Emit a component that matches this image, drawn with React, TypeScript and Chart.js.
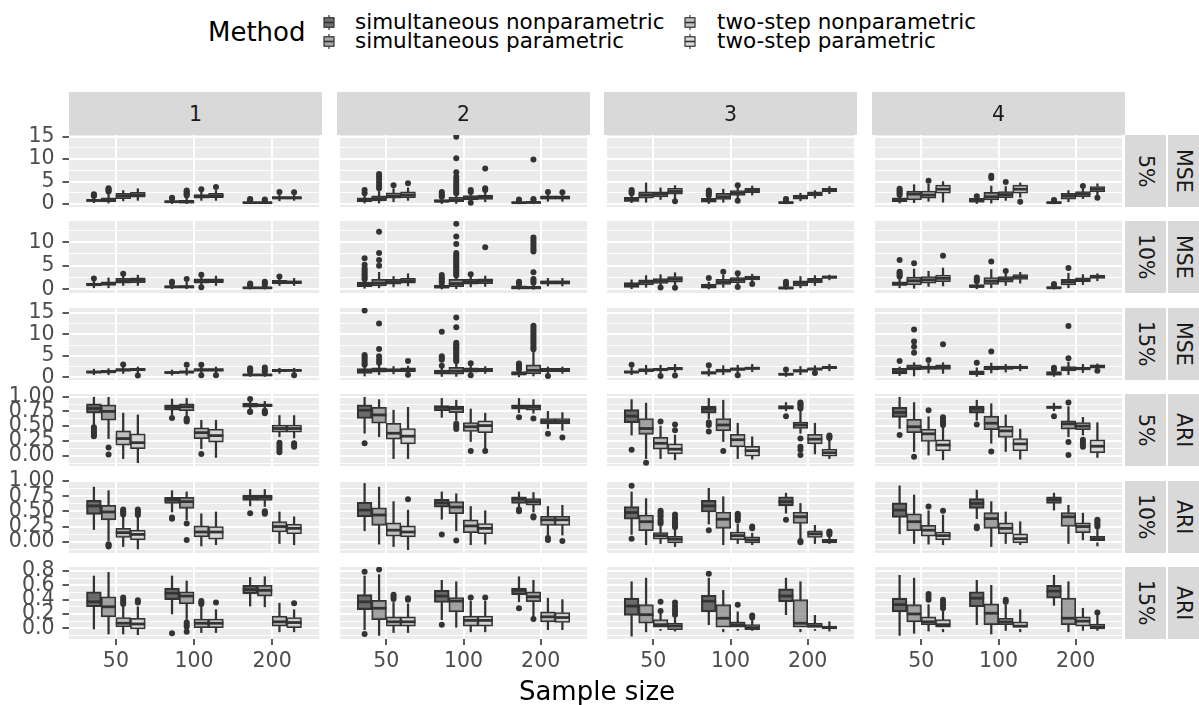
import React, { useEffect, useRef } from 'react';
import { Chart, registerables } from 'chart.js';

Chart.register(...registerables);

type Box = [number, number, number, number, number, number[]];

const METHODS = ['simultaneous nonparametric', 'simultaneous parametric', 'two-step nonparametric', 'two-step parametric'];
const SAMPLE_SIZES = ['50', '100', '200'];
const SCENARIOS = ['1', '2', '3', '4'];
const ROW_PERCENT = ['5%', '10%', '15%', '5%', '10%', '15%'];
const ROW_METRIC = ['MSE', 'MSE', 'MSE', 'ARI', 'ARI', 'ARI'];

// [lower whisker, Q1, median, Q3, upper whisker, outliers]
// layout: scenario (1..4) -> sample size (50,100,200) -> method
const mse05: Box[][][] = [
  [
    [[0.3,0.6,0.8,1.0,1.5,[1.8,2.0,2.2]],[0.2,0.5,0.9,1.4,2.5,[2.8,3.0,3.3,3.5]],[0.7,1.2,1.8,2.4,3.0,[]],[0.8,1.5,2.0,2.6,3.4,[]]],
    [[0.1,0.35,0.5,0.7,1.0,[1.2,1.4]],[0.1,0.25,0.45,0.8,1.6,[1.9,2.2,2.5,2.8,3.0]],[0.8,1.3,1.7,2.1,2.7,[3.3]],[0.8,1.4,1.8,2.4,3.0,[3.8]]],
    [[0.1,0.2,0.3,0.4,0.6,[0.8,1.0,1.1]],[0.1,0.2,0.3,0.4,0.6,[0.8,1.0]],[0.7,1.1,1.4,1.6,2.1,[2.7]],[0.8,1.1,1.4,1.6,2.1,[2.6]]],
  ],
  [
    [[0.2,0.5,0.9,1.4,2.0,[2.4,3.1]],[0.2,0.7,1.2,1.8,2.8,[3.5,4.1,4.8,5.5,6.2,6.7]],[0.5,1.3,1.8,2.5,3.4,[4.2]],[0.8,1.4,2.0,2.7,3.6,[4.6]]],
    [[0.1,0.45,0.6,1.0,1.3,[1.6,1.9,2.3,2.7]],[0.1,0.5,0.8,1.5,2.0,[2.4,2.8,3.3,3.8,4.3,4.8,5.4,6.1,7.1,10.2,15.0]],[0.6,0.9,1.4,1.9,2.3,[2.7,3.1,0.3]],[0.5,1.0,1.5,2.0,2.6,[3.1,3.5,7.9]]],
    [[0.05,0.2,0.3,0.4,0.6,[0.8,1.0]],[0.05,0.2,0.35,0.5,0.7,[0.9,1.1,9.9]],[0.6,1.1,1.4,1.8,2.2,[2.7]],[0.6,1.1,1.4,1.8,2.2,[2.6]]],
  ],
  [
    [[0.3,0.6,0.9,1.5,2.0,[2.4,2.8,3.1]],[0.4,1.3,2.0,2.7,4.7,[]],[1.0,1.6,2.2,2.7,3.6,[]],[1.2,2.2,2.8,3.5,4.1,[0.6]]],
    [[0.1,0.45,0.7,1.25,1.6,[1.9,2.3,2.7,3.0]],[0.4,1.0,1.6,2.4,3.3,[]],[1.2,1.9,2.4,3.0,3.5,[4.2,0.7]],[2.0,2.5,3.0,3.5,4.0,[]]],
    [[0.05,0.2,0.3,0.5,0.6,[0.8,1.0,1.1]],[0.7,1.1,1.5,2.0,2.4,[]],[1.3,1.85,2.2,2.7,3.0,[]],[2.3,2.7,3.1,3.5,3.9,[]]],
  ],
  [
    [[0.2,0.5,0.8,1.4,1.7,[2.0,2.4,2.8,3.1,3.4]],[0.3,0.9,2.2,2.9,4.3,[]],[0.6,1.3,2.0,2.9,4.4,[5.2]],[0.4,2.4,3.3,4.2,5.0,[]]],
    [[0.1,0.4,0.7,1.25,1.5,[1.7]],[0.2,0.9,1.6,2.6,4.0,[5.8,6.3]],[0.8,1.4,2.1,2.75,3.9,[4.9]],[1.5,2.4,3.3,4.2,4.7,[0.5]]],
    [[0.05,0.2,0.3,0.5,0.6,[0.7,0.9]],[0.5,1.1,1.8,2.4,3.0,[]],[1.2,1.6,2.2,2.75,3.3,[4.0]],[1.8,2.7,3.3,3.9,4.5,[1.4]]],
  ],
];

const mse10: Box[][][] = [
  [
    [[0.3,0.7,1.0,1.3,1.8,[2.3]],[0.3,0.8,1.2,1.6,2.4,[]],[0.8,1.3,1.8,2.3,2.8,[3.3]],[0.8,1.4,1.9,2.4,3.0,[]]],
    [[0.1,0.3,0.5,0.7,1.0,[1.3,1.6]],[0.1,0.3,0.5,0.8,1.5,[2.2]],[0.6,1.3,1.7,2.2,2.6,[3.1,0.4]],[0.8,1.4,1.8,2.2,2.8,[]]],
    [[0.05,0.2,0.3,0.4,0.6,[0.8,1.0,1.2]],[0.05,0.2,0.3,0.4,0.6,[0.9,1.3,1.6]],[0.8,1.2,1.5,1.9,2.3,[2.7]],[0.8,1.2,1.5,1.8,2.3,[]]],
  ],
  [
    [[0.2,0.55,1.0,1.5,1.9,[2.1,2.5,2.9,3.3,3.7,4.1,4.5,5.2,6.6]],[0.3,0.7,1.3,2.1,3.6,[5.0,6.2,7.7,12.2]],[0.5,1.1,1.6,2.1,2.7,[]],[0.7,1.3,1.8,2.3,3.3,[]]],
    [[0.05,0.25,0.5,0.9,1.1,[1.3,1.7,2.1,2.5,3.0]],[0.1,0.55,1.2,2.1,2.6,[2.9,3.3,3.7,4.1,4.5,4.9,5.3,5.7,6.1,6.5,6.9,7.3,7.7,9.6,11.2,13.9]],[0.5,1.1,1.6,2.1,2.6,[3.2]],[0.6,1.2,1.7,2.2,2.8,[8.9]]],
    [[0.02,0.1,0.3,0.7,0.9,[1.1,1.4,1.6]],[0.02,0.1,0.3,0.6,1.0,[1.4,1.8,2.2,3.6,8.0,8.5,9.0,9.5,10.0,10.5,11.0]],[0.7,1.1,1.5,1.8,2.3,[]],[0.7,1.1,1.5,1.8,2.3,[]]],
  ],
  [
    [[0.1,0.4,0.9,1.4,2.0,[]],[0.4,0.9,1.5,2.0,2.9,[]],[0.6,1.25,1.8,2.25,3.1,[0.35]],[0.6,1.5,2.1,2.7,3.5,[0.3]]],
    [[0.05,0.25,0.6,1.1,1.5,[2.4]],[0.4,1.0,1.5,2.1,3.0,[3.7]],[0.8,1.4,2.0,2.5,3.0,[3.4,0.5]],[1.3,2.0,2.4,2.8,3.2,[1.1]]],
    [[0.02,0.1,0.25,0.5,0.7,[0.9,1.2,1.6]],[0.3,0.7,1.3,1.8,2.7,[]],[0.8,1.4,1.9,2.3,2.9,[]],[2.0,2.3,2.6,2.8,3.0,[]]],
  ],
  [
    [[0.3,0.8,1.1,1.6,2.3,[2.7,3.0,3.4,3.7,6.2]],[0.2,0.9,1.8,2.6,4.3,[5.5]],[0.6,1.3,2.0,2.7,3.8,[]],[0.7,1.6,2.3,3.0,4.5,[7.1]]],
    [[0.1,0.4,0.6,1.0,1.4,[1.7,2.1,2.5]],[0.3,1.0,1.7,2.5,4.2,[5.9]],[0.8,1.5,2.1,2.7,3.4,[3.9]],[1.3,2.1,2.6,3.1,3.6,[]]],
    [[0.05,0.2,0.3,0.5,0.7,[0.8,1.1]],[0.3,0.9,1.6,2.1,3.4,[4.5]],[1.0,1.6,2.0,2.4,3.1,[]],[1.8,2.3,2.7,3.0,3.3,[]]],
  ],
];

const mse15: Box[][][] = [
  [
    [[0.6,1.0,1.2,1.5,1.9,[]],[0.6,1.0,1.3,1.6,2.0,[]],[0.9,1.4,1.7,2.0,2.4,[3.0]],[1.0,1.5,1.8,2.1,2.4,[0.4]]],
    [[0.5,0.9,1.1,1.3,1.7,[]],[0.5,1.0,1.2,1.5,2.1,[2.9]],[0.8,1.4,1.7,2.0,2.4,[2.9,0.5]],[1.0,1.4,1.7,2.0,2.4,[0.5]]],
    [[0.2,0.4,0.55,0.7,1.0,[1.3,1.6,1.8,2.1]],[0.2,0.4,0.55,0.7,1.0,[1.3,1.7,2.3]],[0.9,1.3,1.6,1.8,2.1,[]],[1.0,1.4,1.6,1.8,2.1,[0.5]]],
  ],
  [
    [[0.3,0.9,1.4,2.0,2.5,[2.9,3.3,3.8,4.3,4.8,5.2,15.5]],[0.6,1.2,1.6,2.2,2.8,[3.4,4.1,4.9,6.6,12.5]],[0.8,1.3,1.6,2.0,2.5,[]],[0.9,1.3,1.7,2.2,2.6,[3.8,0.6]]],
    [[0.2,0.7,1.1,1.7,2.3,[2.7,4.1,4.5,4.9,10.6]],[0.2,0.7,1.4,2.3,3.3,[3.7,4.1,4.5,4.9,5.3,5.7,6.1,6.5,6.9,7.3,7.7,8.0,11.6,13.9]],[0.9,1.2,1.7,2.2,2.8,[3.25,0.5]],[0.9,1.3,1.7,2.1,2.5,[]]],
    [[0.1,0.55,0.8,1.3,1.5,[1.8,2.2,2.6,3.0,3.2]],[0.3,0.8,1.6,2.9,6.0,[6.5,7.0,7.5,8.0,8.5,9.0,9.5,10.0,10.5,11.0,11.5,12.0]],[0.9,1.3,1.7,2.1,2.4,[0.3]],[0.9,1.3,1.7,2.1,2.4,[]]],
  ],
  [
    [[0.6,1.0,1.2,1.5,2.2,[2.9]],[0.7,1.3,1.6,2.0,2.8,[]],[1.0,1.5,1.8,2.1,2.8,[0.3]],[1.2,1.7,2.0,2.3,3.0,[0.4]]],
    [[0.3,0.8,1.0,1.3,2.0,[2.8]],[0.6,1.2,1.5,1.9,2.7,[]],[1.0,1.6,1.9,2.2,2.8,[0.5]],[1.3,1.8,2.1,2.4,3.0,[]]],
    [[0.2,0.5,0.7,0.9,1.4,[1.8]],[0.6,1.2,1.5,1.8,2.5,[]],[1.2,1.7,1.9,2.2,2.7,[1.0]],[1.5,2.0,2.3,2.5,3.0,[]]],
  ],
  [
    [[0.4,0.8,1.3,2.1,2.4,[3.8]],[0.3,1.7,2.2,2.9,3.4,[5.7,7.1,8.3,11.1]],[1.0,1.85,2.2,2.6,3.2,[4.0]],[0.9,1.85,2.3,2.9,3.4,[7.7]]],
    [[0.2,0.6,1.0,1.5,2.2,[3.4]],[1.0,1.7,2.1,2.6,3.3,[6.0]],[1.2,1.8,2.2,2.6,3.0,[]],[1.5,2.0,2.3,2.6,3.0,[]]],
    [[0.2,0.5,0.8,1.3,1.5,[1.8,2.2]],[0.6,1.5,2.0,2.5,3.5,[4.4,11.9]],[1.1,1.7,2.0,2.4,3.0,[]],[1.7,2.1,2.5,2.9,3.1,[1.5]]],
  ],
];

const ari05: Box[][][] = [
  [
    [[0.52,0.72,0.80,0.88,0.99,[0.33,0.36,0.39,0.42,0.45,0.48]],[0.29,0.60,0.75,0.86,0.99,[0.14,0.02]],[-0.05,0.18,0.29,0.42,0.72,[]],[-0.12,0.12,0.22,0.37,0.69,[]]],
    [[0.69,0.77,0.82,0.86,0.96,[0.64]],[0.66,0.76,0.83,0.88,0.97,[0.58,0.61,0.63]],[0.12,0.29,0.39,0.47,0.60,[0.03]],[-0.03,0.23,0.34,0.45,0.60,[]]],
    [[0.79,0.82,0.85,0.89,0.93,[0.96,0.74,0.75]],[0.79,0.83,0.85,0.88,0.92,[0.72,0.74,0.76]],[0.32,0.40,0.46,0.52,0.68,[0.22,0.18,0.14,0.10,0.06]],[0.30,0.40,0.46,0.52,0.68,[0.21,0.18,0.15]]],
  ],
  [
    [[0.38,0.63,0.77,0.86,0.99,[0.21]],[0.32,0.55,0.69,0.82,0.95,[]],[-0.05,0.28,0.38,0.55,0.77,[]],[-0.05,0.20,0.33,0.46,0.82,[]]],
    [[0.65,0.76,0.82,0.85,0.97,[]],[0.60,0.73,0.80,0.84,0.94,[0.54,0.50,0.45]],[0.24,0.41,0.49,0.56,0.79,[0.08]],[0.10,0.39,0.51,0.59,0.72,[0.08]]],
    [[0.73,0.79,0.83,0.86,0.97,[0.65]],[0.72,0.77,0.82,0.86,0.95,[0.63]],[0.46,0.54,0.58,0.63,0.75,[0.37]],[0.43,0.54,0.58,0.63,0.73,[0.31]]],
  ],
  [
    [[0.35,0.56,0.67,0.78,0.95,[0.10]],[-0.05,0.36,0.46,0.63,0.89,[-0.12]],[-0.05,0.11,0.21,0.31,0.50,[0.58]],[-0.07,0.03,0.11,0.20,0.35,[0.43,0.53]]],
    [[0.62,0.72,0.79,0.84,0.97,[0.56,0.52,0.41]],[0.24,0.42,0.52,0.63,0.94,[0.08]],[-0.05,0.15,0.27,0.36,0.55,[]],[-0.06,-0.01,0.085,0.16,0.32,[]]],
    [[0.76,0.79,0.82,0.85,0.90,[0.67]],[0.38,0.46,0.52,0.57,0.77,[0.80,0.83,0.86,0.88,0.90,0.29,0.15,0.10,0.01]],[0.03,0.20,0.28,0.36,0.55,[]],[-0.05,-0.01,0.05,0.11,0.27,[0.30,0.32,0.34]]],
  ],
  [
    [[0.46,0.65,0.73,0.82,0.99,[0.35]],[0.07,0.39,0.49,0.62,0.90,[-0.02]],[0.01,0.24,0.37,0.45,0.66,[0.77]],[-0.07,0.08,0.18,0.27,0.49,[0.52,0.55,0.58,0.62,0.65]]],
    [[0.60,0.72,0.79,0.84,0.94,[0.53]],[0.21,0.44,0.55,0.67,0.88,[0.07]],[0.07,0.31,0.42,0.50,0.69,[]],[-0.06,0.08,0.20,0.29,0.45,[]]],
    [[0.76,0.80,0.82,0.84,0.89,[0.67]],[0.32,0.45,0.54,0.59,0.83,[0.90,0.23,0.01]],[0.35,0.44,0.50,0.56,0.65,[0.27,0.23,0.19,0.15]],[-0.03,0.05,0.16,0.27,0.56,[]]],
  ],
];

const ari10: Box[][][] = [
  [
    [[0.20,0.45,0.59,0.68,0.90,[]],[0.0,0.36,0.49,0.60,0.84,[-0.04,-0.06,-0.08]],[-0.08,0.07,0.15,0.22,0.41,[0.45,0.48,0.50,0.53]],[-0.12,0.03,0.12,0.19,0.41,[0.44,0.47,0.50,0.53]]],
    [[0.49,0.63,0.69,0.73,0.84,[0.38,0.40]],[0.36,0.55,0.66,0.73,0.82,[0.30,0.03]],[-0.07,0.08,0.16,0.26,0.46,[]],[-0.05,0.04,0.16,0.25,0.49,[]]],
    [[0.59,0.68,0.73,0.77,0.86,[0.47]],[0.58,0.68,0.73,0.77,0.86,[0.46,0.48,0.50]],[-0.03,0.16,0.25,0.33,0.49,[]],[-0.05,0.13,0.22,0.29,0.41,[]]],
  ],
  [
    [[0.18,0.41,0.52,0.65,0.96,[]],[-0.04,0.27,0.44,0.56,0.90,[]],[-0.08,0.09,0.19,0.31,0.66,[]],[-0.13,0.08,0.16,0.26,0.52,[0.70]]],
    [[0.37,0.57,0.64,0.70,0.82,[0.12]],[0.18,0.46,0.57,0.66,0.79,[0.02]],[-0.05,0.15,0.26,0.36,0.58,[]],[-0.04,0.13,0.22,0.30,0.51,[]]],
    [[0.57,0.63,0.70,0.74,0.82,[0.50,0.53]],[0.49,0.60,0.66,0.71,0.81,[0.40,0.42]],[0.11,0.27,0.36,0.42,0.58,[0.06,0.03]],[0.11,0.27,0.36,0.42,0.60,[0.01]]],
  ],
  [
    [[0.12,0.37,0.48,0.58,0.82,[0.92,0.05]],[-0.05,0.18,0.33,0.44,0.71,[]],[-0.03,0.04,0.10,0.15,0.25,[0.30,0.33,0.36,0.41,0.44,0.48,0.51]],[-0.08,-0.02,0.04,0.09,0.19,[0.24,0.27,0.30,0.33,0.37,0.40,0.45]]],
    [[0.29,0.49,0.59,0.68,0.88,[0.19]],[-0.05,0.22,0.37,0.49,0.74,[]],[-0.03,0.03,0.10,0.16,0.29,[0.35,0.38,0.41,0.44,0.46]],[-0.05,-0.02,0.03,0.08,0.14,[0.22,0.25]]],
    [[0.47,0.59,0.66,0.74,0.80,[0.36]],[0.04,0.30,0.41,0.49,0.63,[0.01,-0.01]],[-0.03,0.07,0.13,0.18,0.27,[]],[-0.03,-0.02,0.01,0.04,0.08,[0.12,0.15,0.17]]],
  ],
  [
    [[0.13,0.40,0.52,0.64,0.92,[]],[-0.03,0.18,0.33,0.46,0.77,[]],[-0.04,0.09,0.19,0.27,0.51,[0.58]],[-0.05,0.03,0.10,0.16,0.44,[0.51]]],
    [[0.38,0.55,0.63,0.71,0.85,[0.22,0.25]],[-0.08,0.22,0.38,0.48,0.66,[]],[-0.03,0.13,0.22,0.31,0.49,[]],[-0.05,-0.02,0.05,0.13,0.33,[]]],
    [[0.52,0.63,0.69,0.74,0.80,[]],[-0.03,0.25,0.41,0.48,0.60,[]],[0.03,0.15,0.25,0.31,0.47,[]],[-0.07,0.0,0.05,0.09,0.22,[0.25,0.28,0.31,0.34,0.36]]],
  ],
];

const ari15: Box[][][] = [
  [
    [[-0.01,0.30,0.37,0.51,0.73,[]],[-0.08,0.16,0.30,0.44,0.78,[]],[-0.08,0.02,0.07,0.15,0.30,[0.34,0.37,0.40,0.43]],[-0.09,-0.01,0.06,0.14,0.30,[0.36,0.39]]],
    [[0.20,0.40,0.49,0.56,0.73,[-0.07]],[0.09,0.34,0.45,0.51,0.66,[0.02,0.05,0.08,-0.05]],[-0.06,0.01,0.07,0.13,0.30,[0.34,0.36,0.38]],[-0.06,0.01,0.07,0.13,0.26,[0.36]]],
    [[0.31,0.48,0.54,0.60,0.71,[]],[0.30,0.45,0.53,0.60,0.72,[]],[-0.05,0.03,0.09,0.17,0.35,[]],[-0.05,0.01,0.08,0.15,0.26,[0.35]]],
  ],
  [
    [[-0.02,0.26,0.37,0.47,0.73,[0.79,-0.08]],[-0.10,0.12,0.28,0.39,0.75,[0.82]],[-0.06,0.03,0.09,0.16,0.36,[0.41,0.44,0.47]],[-0.06,0.03,0.09,0.16,0.34,[0.40,0.42]]],
    [[0.12,0.36,0.45,0.53,0.67,[0.05]],[0.0,0.23,0.38,0.43,0.65,[]],[-0.05,0.03,0.11,0.17,0.38,[0.43]],[-0.05,0.03,0.11,0.17,0.38,[0.43]]],
    [[0.37,0.47,0.53,0.56,0.72,[0.28]],[0.16,0.37,0.44,0.51,0.67,[0.13]],[-0.02,0.09,0.16,0.23,0.42,[]],[-0.02,0.08,0.15,0.22,0.40,[]]],
  ],
  [
    [[-0.11,0.18,0.31,0.42,0.65,[]],[-0.05,0.07,0.19,0.33,0.70,[]],[-0.03,0.0,0.05,0.12,0.20,[0.24,0.37]],[-0.04,-0.02,0.03,0.07,0.15,[0.19,0.23,0.27,0.31,0.36]]],
    [[0.05,0.23,0.38,0.46,0.70,[0.76]],[-0.05,0.0,0.14,0.33,0.53,[]],[-0.03,0.0,0.05,0.09,0.23,[0.33]],[-0.03,-0.02,0.01,0.05,0.11,[0.15,0.18]]],
    [[0.19,0.37,0.45,0.55,0.70,[]],[-0.05,0.0,0.07,0.40,0.65,[]],[-0.03,0.0,0.03,0.07,0.18,[]],[-0.04,-0.01,0.01,0.03,0.09,[]]],
  ],
  [
    [[-0.10,0.23,0.33,0.42,0.74,[]],[-0.07,0.09,0.20,0.33,0.70,[]],[-0.04,0.05,0.09,0.16,0.33,[0.40,0.44,0.48]],[-0.05,0.0,0.05,0.12,0.25,[0.28,0.32,0.36,0.40]]],
    [[0.05,0.30,0.42,0.51,0.67,[]],[-0.08,0.05,0.21,0.34,0.60,[]],[-0.03,0.05,0.09,0.14,0.33,[0.37,0.40]],[-0.05,0.0,0.03,0.09,0.26,[]]],
    [[0.32,0.42,0.52,0.60,0.74,[]],[-0.05,0.05,0.14,0.42,0.65,[]],[-0.03,0.03,0.10,0.16,0.28,[]],[-0.03,-0.01,0.02,0.06,0.19,[0.22]]],
  ],
];

// y axis ticks
const mseTicks15 = [0, 5, 10, 15];
const mseLabels15 = ['0', '5', '10', '15'];
const mseTicks10 = [0, 5, 10];
const mseLabels10 = ['0', '5', '10'];
const mseMinor = [2.5, 7.5, 12.5];
const ariTicks100 = [0, 0.25, 0.5, 0.75, 1];
const ariLabels100 = ['0.00', '0.25', '0.50', '0.75', '1.00'];
const ariMinor100 = [-0.125, 0.125, 0.375, 0.625, 0.875];
const ariTicks080 = [0, 0.2, 0.4, 0.6, 0.8];
const ariLabels080 = ['0.0', '0.2', '0.4', '0.6', '0.8'];
const ariMinor080 = [-0.1, 0.1, 0.3, 0.5, 0.7];

const ROW_DATA = [mse05, mse10, mse15, ari05, ari10, ari15];
const ROW_TICKS = [mseTicks15, mseTicks10, mseTicks15, ariTicks100, ariTicks100, ariTicks080];
const ROW_LABELS = [mseLabels15, mseLabels10, mseLabels15, ariLabels100, ariLabels100, ariLabels080];
const ROW_MINOR = [mseMinor, mseMinor, mseMinor, ariMinor100, ariMinor100, ariMinor080];
const ROW_LIMITS = [[-0.67, 15.38], [-0.8, 14.5], [-0.63, 16.1], [-0.175, 1.045], [-0.186, 1.0], [-0.15, 0.856]];

// styling / layout
const FILLS = ['rgba(51,51,51,0.7)', 'rgba(129,129,129,0.7)', 'rgba(171,171,171,0.7)', 'rgba(204,204,204,0.7)'];
const LINE = '#333333';
const PANEL_BG = '#EBEBEB';
const STRIP_BG = '#D9D9D9';
const FONT = 'DejaVu Sans';
const DODGE = [-0.28125, -0.09375, 0.09375, 0.28125];
const BOX_UNITS = 0.1875;
const X_MIN = 0.4;
const X_MAX = 3.6;
const PANEL_X = [69, 337, 604, 872];
const PANEL_W = 253;
const PANEL_Y = [135, 221, 308, 394, 481, 567];
const PANEL_H = 72;
const PAD = 12;
const XAXIS_H = 45;
const TICK_FONT = 20.5;
const LEGEND_FONT = 21.5;
const LEGEND_KEY_X = [322, 683];
const LEGEND_TEXT_X = [355, 717];
const LEGEND_ROW_Y = [22, 41];

const isIn = (arr: number[], v: number) => arr.some((a) => Math.abs(a - v) < 1e-9);

function makeConfig(r: number, c: number): any {
  const boxes = ROW_DATA[r][c];
  const boxPx = (BOX_UNITS * PANEL_W) / (X_MAX - X_MIN);
  const lowW: any[] = [];
  const highW: any[] = [];
  const meds: [number, number][] = [];
  const out: any[][] = [[], [], [], []];
  const boxSets: any[][] = [[], [], [], []];
  boxes.forEach((group, s) => {
    group.forEach((b, m) => {
      const pos = s + 1 + DODGE[m];
      lowW.push({ x: pos, y: [b[0], b[1]] });
      highW.push({ x: pos, y: [b[3], b[4]] });
      boxSets[m].push({ x: pos, y: [b[1], b[3]] });
      meds.push([pos, b[2]]);
      b[5].forEach((v) => out[m].push({ x: pos, y: v }));
    });
  });
  const majors = ROW_TICKS[r];
  const minors = ROW_MINOR[r];
  const labels = ROW_LABELS[r];
  const showY = c === 0;
  const showX = r === 5;

  const datasets: any[] = [
    { type: 'bar', data: lowW, backgroundColor: LINE, borderWidth: 0, barThickness: 1.6, grouped: false, order: 3 },
    { type: 'bar', data: highW, backgroundColor: LINE, borderWidth: 0, barThickness: 1.6, grouped: false, order: 3 },
  ];
  for (let m = 0; m < 4; m++) {
    datasets.push({
      type: 'bar', label: METHODS[m], data: boxSets[m], backgroundColor: FILLS[m], borderColor: LINE,
      borderWidth: 1.5, borderSkipped: false, barThickness: boxPx, grouped: false, order: 2,
    });
  }
  for (let m = 0; m < 4; m++) {
    datasets.push({
      type: 'scatter', data: out[m], pointRadius: 3, pointBackgroundColor: LINE, pointBorderWidth: 0,
      pointHoverRadius: 3, showLine: false, order: 1,
    });
  }

  const bgPlugin = {
    id: 'panelBg',
    beforeDraw(chart: any) {
      const { ctx, chartArea: a } = chart;
      ctx.save();
      ctx.fillStyle = PANEL_BG;
      ctx.fillRect(a.left, a.top, a.right - a.left, a.bottom - a.top);
      ctx.restore();
    },
  };
  const medianPlugin = {
    id: 'boxMedians',
    afterDatasetsDraw(chart: any) {
      const { ctx, chartArea: a } = chart;
      const xs = chart.scales.x;
      const ys = chart.scales.y;
      ctx.save();
      ctx.beginPath();
      ctx.rect(a.left, a.top, a.right - a.left, a.bottom - a.top);
      ctx.clip();
      ctx.strokeStyle = LINE;
      ctx.lineWidth = 2.8;
      meds.forEach(([pos, md]) => {
        const px = xs.getPixelForValue(pos);
        const py = ys.getPixelForValue(md);
        ctx.beginPath();
        ctx.moveTo(px - boxPx / 2, py);
        ctx.lineTo(px + boxPx / 2, py);
        ctx.stroke();
      });
      ctx.restore();
    },
  };

  return {
    type: 'bar',
    data: { datasets },
    plugins: [bgPlugin, medianPlugin],
    options: {
      responsive: false,
      maintainAspectRatio: false,
      animation: false,
      events: [],
      devicePixelRatio: 1,
      layout: { padding: { top: PAD, bottom: showX ? 0 : PAD, left: 0, right: 0 } },
      plugins: { legend: { display: false }, tooltip: { enabled: false } },
      scales: {
        x: {
          type: 'linear',
          min: X_MIN,
          max: X_MAX,
          offset: false,
          afterBuildTicks: (scale: any) => {
            scale.ticks = [1, 2, 3].map((v) => ({ value: v }));
          },
          afterFit: (scale: any) => {
            scale.height = showX ? XAXIS_H : 0;
            scale.paddingLeft = 0;
            scale.paddingRight = 0;
          },
          border: { display: false },
          grid: {
            offset: false,
            color: '#FFFFFF',
            lineWidth: 2,
            drawTicks: showX,
            tickLength: 6,
            tickWidth: 1.6,
            tickColor: LINE,
          },
          ticks: {
            display: showX,
            autoSkip: false,
            maxRotation: 0,
            padding: 4,
            color: '#4D4D4D',
            font: { family: FONT, size: TICK_FONT },
            callback: (_v: any, i: number) => SAMPLE_SIZES[i],
          },
        },
        y: {
          type: 'linear',
          min: ROW_LIMITS[r][0],
          max: ROW_LIMITS[r][1],
          afterBuildTicks: (scale: any) => {
            scale.ticks = [...majors, ...minors].sort((a, b) => a - b).map((v) => ({ value: v }));
          },
          afterFit: (scale: any) => {
            scale.width = showY ? PANEL_X[0] : 0;
            scale.paddingTop = 0;
            scale.paddingBottom = 0;
          },
          border: { display: false },
          grid: {
            color: '#FFFFFF',
            lineWidth: (ctx: any) => (ctx.tick && isIn(majors, ctx.tick.value) ? 2 : 1),
            drawTicks: showY,
            tickLength: 6.5,
            tickWidth: 1.6,
            tickColor: (ctx: any) => (ctx.tick && isIn(majors, ctx.tick.value) ? LINE : 'rgba(0,0,0,0)'),
          },
          ticks: {
            display: showY,
            autoSkip: false,
            padding: 8,
            color: '#4D4D4D',
            font: { family: FONT, size: TICK_FONT },
            callback: (v: any) => {
              const i = majors.findIndex((a) => Math.abs(a - v) < 1e-9);
              return i >= 0 ? labels[i] : '';
            },
          },
        },
      },
    },
  };
}

function KeyGlyph({ fill }: { fill: string }) {
  return (
    <svg width={14} height={19} style={{ display: 'block' }}>
      <line x1={7} y1={1.9} x2={7} y2={4.75} stroke={LINE} strokeWidth={1.2} />
      <line x1={7} y1={14.25} x2={7} y2={17.1} stroke={LINE} strokeWidth={1.2} />
      <rect x={2} y={4.75} width={10} height={9.5} fill={fill} stroke={LINE} strokeWidth={1.2} />
      <line x1={2} y1={9.5} x2={12} y2={9.5} stroke={LINE} strokeWidth={1.6} />
    </svg>
  );
}

export default function App() {
  const canvasRefs = useRef<(HTMLCanvasElement | null)[]>([]);

  useEffect(() => {
    Chart.defaults.font.family = FONT;
    const charts: Chart[] = [];
    for (let r = 0; r < 6; r++) {
      for (let c = 0; c < 4; c++) {
        const cv = canvasRefs.current[r * 4 + c];
        if (cv) charts.push(new Chart(cv, makeConfig(r, c)));
      }
    }
    return () => charts.forEach((ch) => ch.destroy());
  }, []);

  const canvases: any[] = [];
  for (let r = 0; r < 6; r++) {
    for (let c = 0; c < 4; c++) {
      const left = c === 0 ? 0 : PANEL_X[c];
      const width = c === 0 ? PANEL_X[0] + PANEL_W : PANEL_W;
      const top = PANEL_Y[r] - PAD;
      const height = PAD + PANEL_H + (r === 5 ? XAXIS_H : PAD);
      const idx = r * 4 + c;
      canvases.push(
        <canvas
          key={`cv-${idx}`}
          ref={(el) => { canvasRefs.current[idx] = el; }}
          width={width}
          height={height}
          style={{ position: 'absolute', left, top, width, height }}
        />
      );
    }
  }

  return (
    <div style={{ position: 'absolute', left: 0, top: 0, width: 1199, height: 705, background: '#FFFFFF', overflow: 'hidden', fontFamily: FONT }}>
      {canvases}
      {SCENARIOS.map((s, c) => (
        <div key={`ts-${c}`} style={{ position: 'absolute', left: PANEL_X[c], top: 92, width: PANEL_W, height: 43, background: STRIP_BG, color: '#1A1A1A', fontSize: TICK_FONT, display: 'flex', alignItems: 'center', justifyContent: 'center' }}>{s}</div>
      ))}
      {ROW_PERCENT.map((p, r) => (
        <div key={`rp-${r}`} style={{ position: 'absolute', left: 1125, top: PANEL_Y[r], width: 41, height: PANEL_H, background: STRIP_BG, color: '#1A1A1A', fontSize: TICK_FONT, display: 'flex', alignItems: 'center', justifyContent: 'center' }}>
          <span style={{ writingMode: 'vertical-rl' }}>{p}</span>
        </div>
      ))}
      {ROW_METRIC.map((m, r) => (
        <div key={`rm-${r}`} style={{ position: 'absolute', left: 1168, top: PANEL_Y[r], width: 31, height: PANEL_H, background: STRIP_BG, color: '#1A1A1A', fontSize: TICK_FONT, display: 'flex', alignItems: 'center', justifyContent: 'center' }}>
          <span style={{ writingMode: 'vertical-rl' }}>{m}</span>
        </div>
      ))}
      <div style={{ position: 'absolute', left: PANEL_X[0], top: 676, width: 1125 - PANEL_X[0], textAlign: 'center', fontSize: 26, lineHeight: '30px', color: '#000' }}>Sample size</div>
      <div style={{ position: 'absolute', left: 208, top: 17, fontSize: 26, lineHeight: '30px', color: '#000', whiteSpace: 'nowrap' }}>Method</div>
      {METHODS.map((m, i) => {
        const col = Math.floor(i / 2);
        const row = i % 2;
        const cy = LEGEND_ROW_Y[row];
        return (
          <React.Fragment key={`lg-${i}`}>
            <div style={{ position: 'absolute', left: LEGEND_KEY_X[col], top: cy - 9.5 }}>
              <KeyGlyph fill={FILLS[i]} />
            </div>
            <div style={{ position: 'absolute', left: LEGEND_TEXT_X[col], top: cy - 12, height: 24, lineHeight: '24px', fontSize: LEGEND_FONT, color: '#000', whiteSpace: 'nowrap' }}>{m}</div>
          </React.Fragment>
        );
      })}
    </div>
  );
}
